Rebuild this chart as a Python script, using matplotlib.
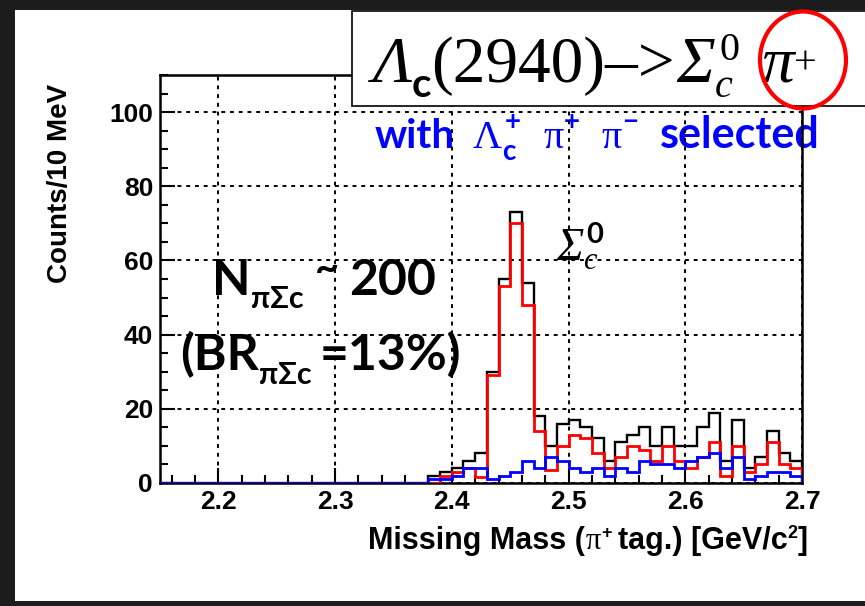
import matplotlib
matplotlib.use('Agg')
import matplotlib.pyplot as plt
import numpy as np
from matplotlib.patches import Rectangle, Ellipse
from matplotlib.ticker import MultipleLocator

# bins of 10 MeV from 2.15 to 2.70 GeV/c^2
edges = np.linspace(2.15, 2.70, 56)

black = [0, 0, 0, 0, 0, 0, 0, 0, 0, 0, 0, 0, 0, 0, 0, 0, 0, 0, 0, 0, 0, 0, 0,
         2, 3, 4, 6, 8, 30, 55, 73, 54, 18, 10, 16, 17, 15, 12, 6, 11, 13, 15,
         10, 15, 10, 10, 15, 19, 6, 17, 4, 7, 14, 8, 6]
red = [0, 0, 0, 0, 0, 0, 0, 0, 0, 0, 0, 0, 0, 0, 0, 0, 0, 0, 0, 0, 0, 0, 0,
       0, 2, 3, 4, 1.5, 29, 53, 70, 48, 14, 3.5, 10, 13, 12, 8, 4, 7, 10, 9,
       6, 10, 6, 4, 7, 11, 2, 10, 3, 5, 11, 5, 4]
blue = [0, 0, 0, 0, 0, 0, 0, 0, 0, 0, 0, 0, 0, 0, 0, 0, 0, 0, 0, 0, 0, 0, 0,
        1, 1, 2, 4, 4, 1, 2, 3, 6, 4, 7, 6, 4, 3, 4, 2, 4, 3, 6,
        5, 5, 4, 6, 7, 8, 4, 7, 1, 2, 3, 3, 2]

xticks = [2.2, 2.3, 2.4, 2.5, 2.6, 2.7]
yticks = [0, 20, 40, 60, 80, 100]

W, H = 865, 606
fig = plt.figure(figsize=(W / 100, H / 100), dpi=100, facecolor='#1c1c1c')
# white slide panel
fig.patches.append(Rectangle((15 / W, 5 / H), 1, 1 - 15 / H, transform=fig.transFigure,
                             facecolor='white', edgecolor='none', zorder=-5))

ax = fig.add_axes([160 / W, 1 - 483 / H, 642 / W, 408 / H], zorder=2)
ax.patch.set_visible(False)
ax.stairs(black, edges, color='black', lw=1.7, baseline=0, zorder=3)
ax.stairs(red, edges, color='#ff0000', lw=2.0, baseline=0, zorder=3)
ax.stairs(blue, edges, color='#0000ff', lw=2.0, baseline=0, zorder=3)
ax.set_xlim(2.15, 2.70)
ax.set_ylim(0, 110)
ax.set_xticks(xticks)
ax.set_yticks(yticks)
ax.set_xticklabels([str(v) for v in xticks])
ax.xaxis.set_minor_locator(MultipleLocator(0.02))
ax.yaxis.set_minor_locator(MultipleLocator(5))
ax.tick_params(which='major', direction='in', length=11, width=1.5, labelsize=19, pad=5)
ax.tick_params(which='minor', direction='in', length=6, width=1.5)
for lab in ax.get_xticklabels() + ax.get_yticklabels():
    lab.set_fontweight('bold')
    lab.set_family('Liberation Sans')
ax.set_axisbelow(False)
ax.grid(True, which='major', color='black', linestyle=(0, (2, 2.5)), linewidth=1.4)
for sp in ax.spines.values():
    sp.set_linewidth(1.8)

fig.text(60 / W, 1 - 183 / H, 'Counts/10 MeV', rotation=90, ha='center', va='center',
         fontsize=20, weight='bold', family='Liberation Sans')

rend = fig.canvas.get_renderer()


def put(x, y, parts, color='black', z=1):
    # draw a row of text pieces one after another, x and y in pixels from top left
    for p in parts:
        t = fig.text((x + p.get('dx', 0)) / W, 1 - (y - p.get('dy', 0)) / H, p['s'],
                     fontsize=p['size'], family=p.get('family', ['Lato', 'DejaVu Sans']),
                     style=p.get('style', 'normal'), weight=p.get('weight', 'bold'),
                     color=color, ha='left', va='baseline', zorder=z)
        if p.get('adv', True):
            x += t.get_window_extent(rend).width + p.get('dx', 0) + p.get('gap', 0)
    return x


sans = ['Liberation Sans', 'DejaVu Sans']
serif = ['Liberation Serif', 'DejaVu Serif']

put(368, 549, [
    dict(s='Missing Mass (', size=22, family=sans, gap=1),
    dict(s='π', size=22, family=serif, weight='normal'),
    dict(s='+', size=13, family=sans, dy=11, gap=6),
    dict(s='tag.) [GeV/c', size=22, family=sans),
    dict(s='2', size=13, family=sans, dy=11),
    dict(s=']', size=22, family=sans),
])

# title box
fig.patches.append(Rectangle((352 / W, 1 - 106 / H), 1, 95 / H, transform=fig.transFigure,
                             facecolor='white', edgecolor='black', lw=1.2, zorder=3))
put(372, 82, [
    dict(s='Λ', size=47, family=serif, style='italic', weight='normal'),
    dict(s='c', size=29, dy=-15),
    dict(s='(2940)–>', size=47, family=serif, weight='normal', gap=2),
    dict(s='Σ', size=47, family=serif, style='italic', weight='normal'),
    dict(s='c', size=29, family=serif, style='italic', weight='normal', dy=-15, adv=False),
    dict(s='0', size=29, family=serif, weight='normal', dy=22, dx=4, gap=22),
    dict(s='π', size=47, family=serif, style='italic', weight='normal'),
    dict(s='+', size=29, family=serif, weight='normal', dy=8),
], z=4)
fig.patches.append(Ellipse((803 / W, 1 - 60 / H), 86 / W, 97 / H, transform=fig.transFigure,
                           facecolor='none', edgecolor='#ff0000', lw=3, zorder=5))

put(375, 148, [
    dict(s='with', size=29, gap=18),
    dict(s='Λ', size=29, family=serif, weight='normal'),
    dict(s='c', size=20, dy=-12, adv=False),
    dict(s='+', size=20, dy=18, dx=3, gap=22),
    dict(s='π', size=29, family=serif, weight='normal'),
    dict(s='+', size=20, dy=18, gap=22),
    dict(s='π', size=29, family=serif, weight='normal'),
    dict(s='−', size=20, dy=18, gap=22),
    dict(s='selected', size=31),
], color='#0000ff')

put(212, 295, [
    dict(s='N', size=36),
    dict(s='πΣc', size=22, dy=-13, gap=12),
    dict(s='~', size=30, dy=14, gap=10),
    dict(s='200', size=36),
])
put(180, 370, [
    dict(s='(BR', size=36),
    dict(s='πΣc', size=22, dy=-14, gap=8),
    dict(s='=13%)', size=36),
])

put(556, 260, [
    dict(s='Σ', size=33, family=serif, style='italic', weight='normal'),
    dict(s='c', size=22, family=serif, style='italic', weight='normal', dy=-9, adv=False),
    dict(s='0', size=21, dy=17, dx=3),
])

fig.savefig('out.png', dpi=100, facecolor=fig.get_facecolor())
